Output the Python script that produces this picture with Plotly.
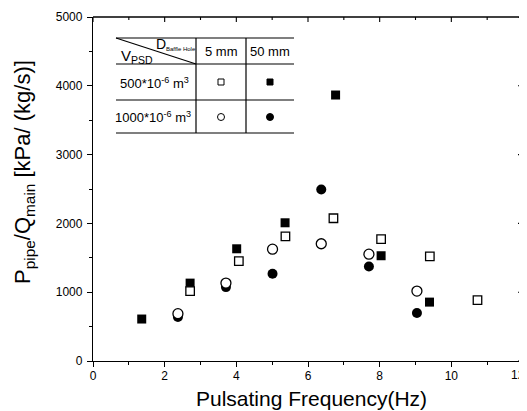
import plotly.graph_objects as go

# ---- data ----
open_sq_x = [2.71, 4.07, 5.37, 6.71, 8.04, 9.40, 10.73]
open_sq_y = [1016, 1451, 1810, 2075, 1771, 1520, 885]
fill_sq_x = [1.36, 2.71, 4.01, 5.36, 6.77, 8.04, 9.39]
fill_sq_y = [610, 1132, 1631, 2009, 3866, 1530, 856]
open_ci_x = [2.37, 3.71, 5.01, 6.37, 7.70, 9.04]
open_ci_y = [688, 1132, 1626, 1704, 1553, 1016]
fill_ci_x = [2.37, 3.71, 5.01, 6.37, 7.70, 9.04]
fill_ci_y = [639, 1074, 1268, 2492, 1374, 697]

x_ticks = [0, 2, 4, 6, 8, 10, 12]
y_ticks = [0, 1000, 2000, 3000, 4000, 5000]

FONT = "Liberation Sans, Arial, sans-serif"
OFF = 8                      # page body margin of the browser
W, H = 527 - OFF, 411 - OFF
ML, MR, MT, MB = 93 - OFF, 4, 17 - OFF, 50
XR = (0, 12)
YR = (0, 5000)
PW = W - ML - MR
PH = H - MT - MB


def dx(px):  # reference-picture pixel -> data x
    return XR[0] + (px - OFF - ML) / PW * (XR[1] - XR[0])


def dy(py):
    return YR[0] + (H - MB - (py - OFF)) / PH * (YR[1] - YR[0])


def qx(px):  # reference-picture pixel -> paper x
    return (px - OFF - ML) / PW


def qy(py):
    return (H - MB - (py - OFF)) / PH


fig = go.Figure()
fig.add_trace(go.Scatter(x=fill_ci_x, y=fill_ci_y, mode="markers", name="1000, 50 mm",
                         marker=dict(symbol="circle", size=10, color="black")))
fig.add_trace(go.Scatter(x=fill_sq_x, y=fill_sq_y, mode="markers", name="500, 50 mm",
                         marker=dict(symbol="square", size=9, color="black")))
fig.add_trace(go.Scatter(x=open_ci_x, y=open_ci_y, mode="markers", name="1000, 5 mm",
                         marker=dict(symbol="circle", size=10, color="white",
                                     line=dict(color="black", width=1.3))))
fig.add_trace(go.Scatter(x=open_sq_x, y=open_sq_y, mode="markers", name="500, 5 mm",
                         marker=dict(symbol="square", size=8.5, color="white",
                                     line=dict(color="black", width=1.3))))

# ---- table (legend) drawn with shapes ----
shapes = []
lk = dict(color="black", width=1.2)
tl, c1, c2, tr = 116, 196, 246, 294
r0, r1, r2, r3 = 38, 64, 100, 133
for ry in (r0, r1, r2, r3):
    shapes.append(dict(type="line", xref="x", yref="y", x0=dx(tl), x1=dx(tr), y0=dy(ry), y1=dy(ry), line=lk))
for cx in (c1, c2):
    shapes.append(dict(type="line", xref="x", yref="y", x0=dx(cx), x1=dx(cx), y0=dy(r0), y1=dy(r3), line=lk))
shapes.append(dict(type="line", xref="x", yref="y", x0=dx(tl), x1=dx(c1), y0=dy(r0), y1=dy(r1), line=lk))


def sym_rect(cx, cy, s, fill):
    return dict(type="rect", xref="x", yref="y", x0=dx(cx - s / 2), x1=dx(cx + s / 2),
                y0=dy(cy + s / 2), y1=dy(cy - s / 2), fillcolor=fill,
                line=dict(color="black", width=1))


def sym_circ(cx, cy, s, fill):
    return dict(type="circle", xref="x", yref="y", x0=dx(cx - s / 2), x1=dx(cx + s / 2),
                y0=dy(cy + s / 2), y1=dy(cy - s / 2), fillcolor=fill,
                line=dict(color="black", width=1))


shapes.append(sym_rect(221, 82, 6, "white"))
shapes.append(sym_rect(270, 82, 6, "black"))
shapes.append(sym_circ(221, 117, 7, "white"))
shapes.append(sym_circ(270, 117, 7, "black"))

# top / right frame with inward ticks
shapes.append(dict(type="line", xref="paper", yref="paper", x0=0, x1=1, y0=1, y1=1,
                   line=dict(color="black", width=1.3)))
shapes.append(dict(type="line", xref="paper", yref="paper", x0=1, x1=1, y0=0, y1=1,
                   line=dict(color="black", width=1.3)))
for v in range(XR[0], XR[1] + 1):
    ln = 5 if v % 2 == 0 else 3
    shapes.append(dict(type="line", xref="x", yref="paper", x0=v, x1=v, y0=1, y1=1 - ln / PH,
                       line=dict(color="black", width=1.1)))
for v in range(YR[0], YR[1] + 1, 500):
    ln = 5 if v % 1000 == 0 else 3
    shapes.append(dict(type="line", xref="paper", yref="y", x0=1, x1=1 - ln / PW, y0=v, y1=v,
                       line=dict(color="black", width=1.1)))

ann = []


def txt(px, py, s, size=13, xa="center"):
    ann.append(dict(x=dx(px), y=dy(py), xref="x", yref="y", text=s, showarrow=False,
                    xanchor=xa, yanchor="middle", font=dict(family=FONT, size=size, color="black")))


txt(221, 51, "5 mm")
txt(270, 51, "50 mm")
txt(154, 83, "500*10<sup>-6</sup> m<sup>3</sup>")
txt(153, 117, "1000*10<sup>-6</sup> m<sup>3</sup>")
txt(119, 56, "V<sub>PSD</sub>", size=15, xa="left")
txt(154, 44, "D", size=14, xa="left")
txt(164, 49, "Baffle Hole", size=6, xa="left")

# right-most x tick label kept inside the page
ann.append(dict(x=1 + 4 / PW, y=0, xref="paper", yref="paper", text=str(x_ticks[-1]),
                showarrow=False, xanchor="right", yanchor="top", yshift=-5,
                font=dict(family=FONT, size=12, color="black")))

# axis titles
ann.append(dict(x=qx(311), y=qy(398), xref="paper", yref="paper", text="Pulsating Frequency(Hz)",
                showarrow=False, xanchor="center", yanchor="middle",
                font=dict(family=FONT, size=21, color="black")))
ann.append(dict(x=qx(24), y=qy(172), xref="paper", yref="paper",
                text="P<sub>pipe</sub>/Q<sub>main</sub> [kPa/ (kg/s)]",
                showarrow=False, xanchor="center", yanchor="middle", textangle=-90,
                font=dict(family=FONT, size=22, color="black")))

axis_common = dict(showgrid=False, zeroline=False, showline=True, linecolor="black", linewidth=1.3,
                   ticks="outside", ticklen=5, tickwidth=1.2, tickcolor="black",
                   automargin=False,
                   tickfont=dict(family=FONT, size=12, color="black"))

fig.update_layout(
    width=W, height=H,
    margin=dict(l=ML, r=MR, t=MT, b=MB, autoexpand=False),
    plot_bgcolor="white", paper_bgcolor="white",
    showlegend=False,
    shapes=shapes, annotations=ann,
    xaxis=dict(range=list(XR), tickvals=x_ticks,
               ticktext=[str(v) for v in x_ticks[:-1]] + [""],
               minor=dict(dtick=1, ticks="outside", ticklen=3, tickcolor="black", tickwidth=1),
               ticklabelstandoff=-2,
               **axis_common),
    yaxis=dict(range=list(YR), tickvals=y_ticks, ticktext=[str(v) for v in y_ticks],
               minor=dict(dtick=500, ticks="outside", ticklen=3, tickcolor="black", tickwidth=1),
               ticklabelstandoff=2,
               **axis_common),
)

fig.write_html("out.html")
